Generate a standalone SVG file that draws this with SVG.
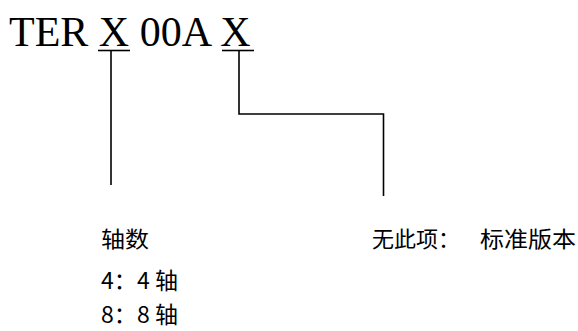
<svg xmlns="http://www.w3.org/2000/svg" width="578" height="331" viewBox="0 0 578 331">
<style>
.title{font-family:"Liberation Serif","Times New Roman",serif;font-size:42px;fill:#000}
.cjk{font-family:"Noto Sans CJK SC","Noto Sans",sans-serif;font-size:22px;fill:#000}
.num{font-size:23px}
.ln{stroke:#000;stroke-width:1.6;fill:none}
</style>
<rect width="578" height="331" fill="#fff"/>
<g id="code">
<text class="title" x="9" y="46">TER X 00A X</text>
<line class="ln" x1="98" y1="50.5" x2="130" y2="50.5"/>
<line class="ln" x1="222" y1="50.5" x2="254" y2="50.5"/>
</g>
<g id="connectors">
<polyline class="ln" points="111,50 111,185"/>
<polyline class="ln" points="239,50 239,114 383.5,114 383.5,196"/>
</g>
<g id="axis">
<text class="cjk" x="101" y="247" textLength="48" lengthAdjust="spacingAndGlyphs">轴数</text>
<text class="cjk num" x="101" y="289">4：</text>
<text class="cjk num" x="137" y="289">4 轴</text>
<text class="cjk num" x="101" y="323">8：</text>
<text class="cjk num" x="137" y="323">8 轴</text>
</g>
<g id="version">
<text class="cjk" x="372" y="247">无此项：</text>
<text class="cjk" x="480" y="247" textLength="96" lengthAdjust="spacingAndGlyphs">标准版本</text>
</g>
</svg>
